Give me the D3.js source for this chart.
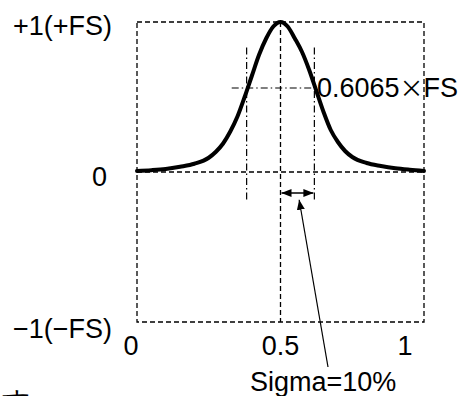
<!DOCTYPE html>
<html>
<head>
<meta charset="utf-8">
<script src="https://cdn.jsdelivr.net/npm/d3@7"></script>
<style>
html,body{margin:0;padding:0;background:#fff;}
svg{display:block;}
text{font-family:"Liberation Sans",Arial,sans-serif;fill:#000;}
</style>
</head>
<body>
<svg id="chart" width="467" height="396"></svg>
<script>
// ---- data ----
const curveX = [0, 0.05, 0.1, 0.15, 0.2, 0.25, 0.275, 0.3, 0.325, 0.35, 0.375, 0.4, 0.425, 0.45, 0.475, 0.5,
                0.525, 0.55, 0.575, 0.6, 0.625, 0.65, 0.675, 0.7, 0.725, 0.75, 0.8, 0.85, 0.9, 0.95, 1];
const curveY = [0.007, 0.012, 0.02, 0.035, 0.055, 0.095, 0.135, 0.19, 0.27, 0.37, 0.5, 0.64, 0.78, 0.89, 0.97, 1.0,
                0.97, 0.89, 0.8, 0.68, 0.54, 0.40, 0.28, 0.2, 0.14, 0.1, 0.06, 0.04, 0.025, 0.015, 0.007];
const xTicks = [0, 0.5, 1];
const xTickLabels = ["0", "0.5", "1"];
const yTicks = [1, 0, -1];
const yTickLabels = ["+1(+FS)", "0", "\u22121(\u2212FS)"];
const sigmaLines = [0.382, 0.618];
const levelValue = 0.56;
const levelLabel = ["0.6065", "\u00d7", "FS"];
const sigmaLabel = "Sigma=10%";
const footText = "です";

// ---- layout ----
const svg = d3.select("#chart");
const x = d3.scaleLinear().domain([0, 1]).range([137, 424]);
const y = d3.scaleLinear().domain([-1, 1]).range([322, 22]);

const dash = "5,3";
const dashDot = "7,3,1.5,3";
const g = svg.append("g");

// box
g.append("rect")
  .attr("x", x(0)).attr("y", y(1))
  .attr("width", x(1) - x(0)).attr("height", y(-1) - y(1))
  .attr("fill", "none").attr("stroke", "#000").attr("stroke-width", 1.3)
  .attr("stroke-dasharray", dash);
// zero line
g.append("line").attr("x1", x(0)).attr("x2", x(1)).attr("y1", y(0)).attr("y2", y(0))
  .attr("stroke", "#000").attr("stroke-width", 1.3).attr("stroke-dasharray", dash);
// center vertical
g.append("line").attr("x1", x(0.5)).attr("x2", x(0.5)).attr("y1", y(1)).attr("y2", y(-1))
  .attr("stroke", "#000").attr("stroke-width", 1.3).attr("stroke-dasharray", dash);

// sigma dash-dot verticals
g.selectAll(".sig").data(sigmaLines).enter().append("line")
  .attr("x1", d => x(d)).attr("x2", d => x(d))
  .attr("y1", y(0.83)).attr("y2", y(-0.19))
  .attr("stroke", "#000").attr("stroke-width", 1.2).attr("stroke-dasharray", dashDot);
// level dash-dot horizontal
g.append("line").attr("x1", x(0.33)).attr("x2", x(sigmaLines[1]) + 2)
  .attr("y1", y(levelValue)).attr("y2", y(levelValue))
  .attr("stroke", "#000").attr("stroke-width", 1.2).attr("stroke-dasharray", dashDot);

// curve
const pts = curveX.map((v, i) => [v, curveY[i]]);
g.append("path").datum(pts)
  .attr("d", d3.line().x(d => x(d[0])).y(d => y(d[1])).curve(d3.curveMonotoneX))
  .attr("fill", "none").attr("stroke", "#000").attr("stroke-width", 4)
  .attr("stroke-linejoin", "round").attr("stroke-linecap", "round");

// arrows
const defs = svg.append("defs");
function marker(id, orient) {
  defs.append("marker").attr("id", id)
    .attr("viewBox", "0 0 10 8").attr("refX", 10).attr("refY", 4)
    .attr("markerWidth", 10).attr("markerHeight", 8).attr("markerUnits", "userSpaceOnUse")
    .attr("orient", orient)
    .append("path").attr("d", "M0,0 L10,4 L0,8 Z").attr("fill", "#000");
}
marker("ah", "auto");
marker("ahs", "auto-start-reverse");
const arrowY = y(-0.14);
g.append("line").attr("x1", x(0.5) + 1).attr("x2", x(sigmaLines[1]) - 1)
  .attr("y1", arrowY).attr("y2", arrowY)
  .attr("stroke", "#000").attr("stroke-width", 1.5)
  .attr("marker-start", "url(#ahs)").attr("marker-end", "url(#ah)");
// pointer
g.append("line").attr("x1", 328).attr("y1", 367).attr("x2", x(0.565)).attr("y2", y(-0.185))
  .attr("stroke", "#000").attr("stroke-width", 1.2).attr("marker-end", "url(#ah)");

// y labels
g.selectAll(".ylab").data(yTicks).enter().append("text")
  .attr("x", d => d === 0 ? 107 : 13)
  .attr("y", d => y(d) + (d === 1 ? 13 : d === 0 ? 14 : 16))
  .attr("text-anchor", d => d === 0 ? "end" : "start")
  .attr("font-size", 27)
  .text((d, i) => yTickLabels[i]);

// x labels
const xoff = [-6, 0, -19];
g.selectAll(".xlab").data(xTicks).enter().append("text")
  .attr("x", (d, i) => x(d) + xoff[i]).attr("y", 355)
  .attr("text-anchor", "middle").attr("font-size", 27)
  .text((d, i) => xTickLabels[i]);

// level label
const lt = g.append("text").attr("x", x(0.627)).attr("y", y(levelValue) + 9).attr("font-size", 27);
lt.append("tspan").text(levelLabel[0]);
lt.append("tspan").attr("font-family", "'Noto Sans CJK JP'").attr("font-size", 24).text(levelLabel[1]);
lt.append("tspan").text(levelLabel[2]);

// sigma label
g.append("text").attr("x", 250).attr("y", 391).attr("font-size", 27).text(sigmaLabel);

// cut-off footer text
g.append("text").attr("x", 31).attr("y", 411).attr("text-anchor", "end")
  .attr("font-family", "'Noto Serif CJK JP','Noto Sans CJK JP'").attr("font-size", 28).text(footText);
</script>
</body>
</html>
